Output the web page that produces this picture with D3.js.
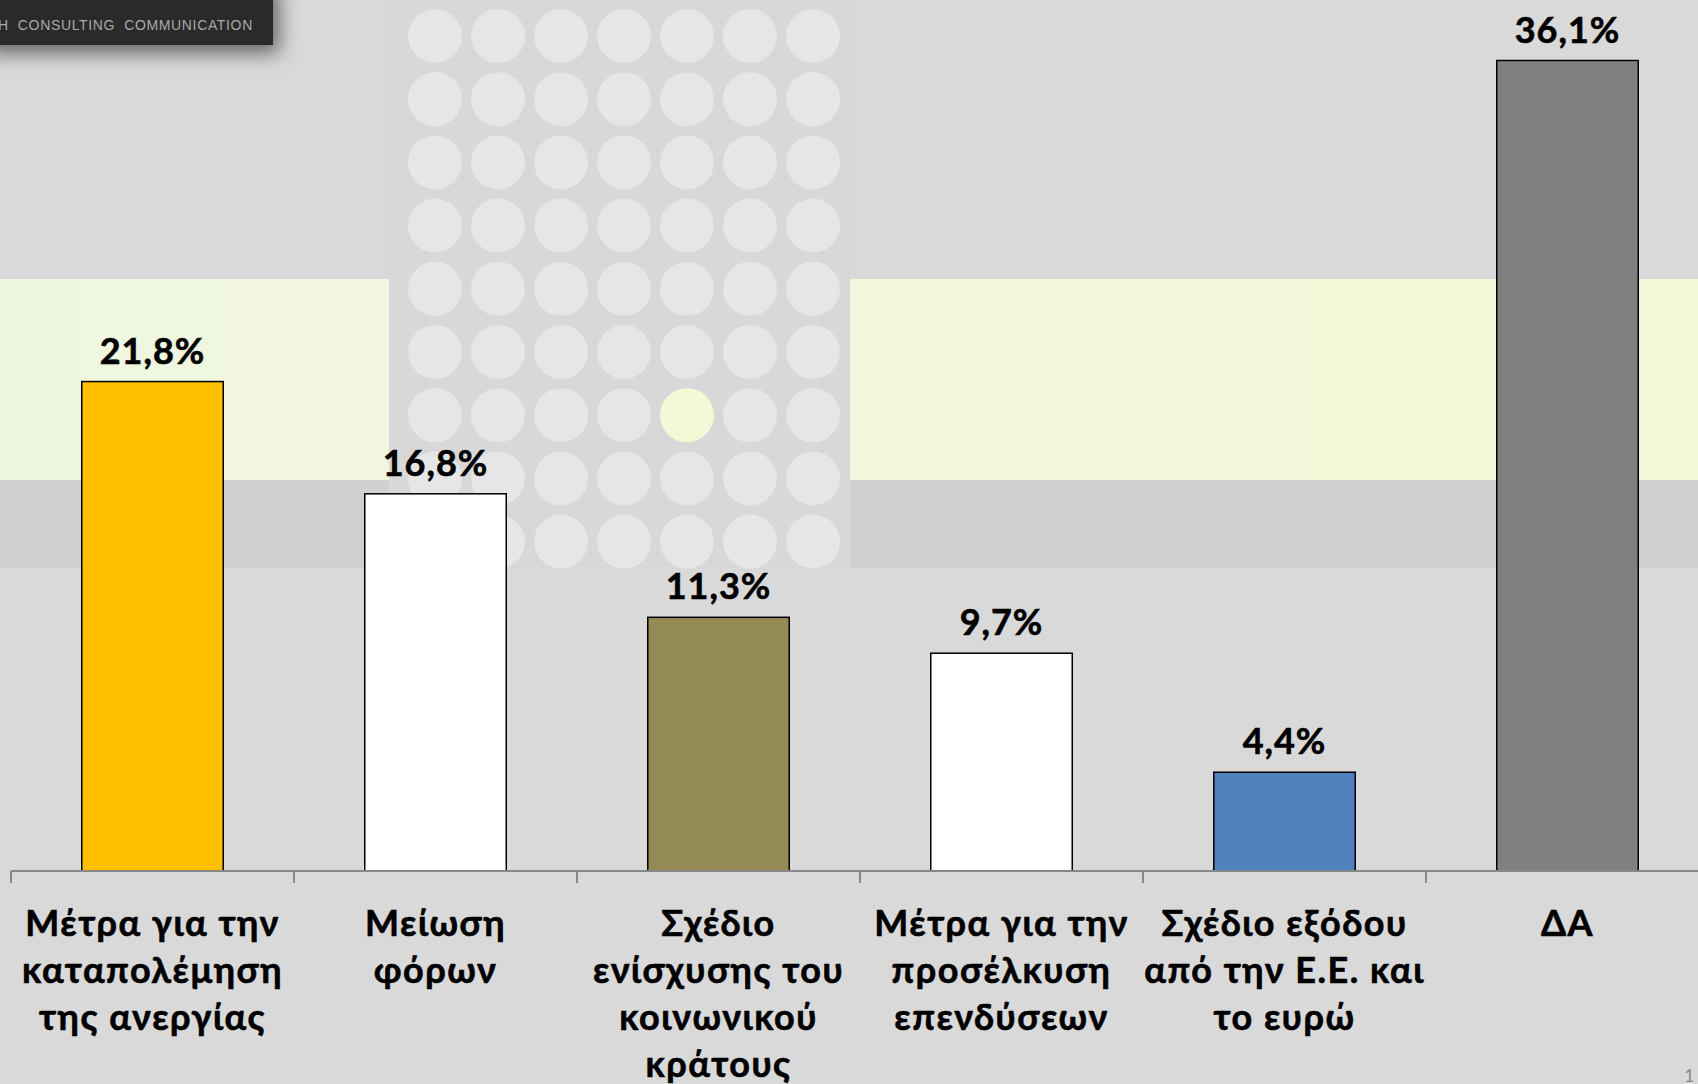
<!DOCTYPE html>
<html>
<head>
<meta charset="utf-8">
<script src="https://cdn.jsdelivr.net/npm/d3@7"></script>
<style>
html,body{margin:0;padding:0;background:#d9d9d9;overflow:hidden;}
svg{display:block;}
</style>
</head>
<body>
<svg id="chart" width="1698" height="1084"></svg>
<script>
const categories = [
  ["Μέτρα για την", "καταπολέμηση", "της ανεργίας"],
  ["Μείωση", "φόρων"],
  ["Σχέδιο", "ενίσχυσης του", "κοινωνικού", "κράτους"],
  ["Μέτρα για την", "προσέλκυση", "επενδύσεων"],
  ["Σχέδιο εξόδου", "από την Ε.Ε. και", "το ευρώ"],
  ["ΔΑ"]
];
const values = [21.8, 16.8, 11.3, 9.7, 4.4, 36.1];
const valueLabels = ["21,8%", "16,8%", "11,3%", "9,7%", "4,4%", "36,1%"];
const barColors = ["#FFC000", "#FFFFFF", "#948A54", "#FFFFFF", "#4F81BD", "#808080"];
const logoText = "H  CONSULTING  COMMUNICATION";

const W = 1698, H = 1084;
const svg = d3.select("#chart");
const FONT = "Lato, 'Open Sans', sans-serif";

// ---- background decoration ----
const defs = svg.append("defs");
const f = defs.append("filter").attr("id", "shadow").attr("x", "-20%").attr("y", "-50%").attr("width", "160%").attr("height", "250%");
f.append("feDropShadow").attr("dx", 6).attr("dy", 8).attr("stdDeviation", 10).attr("flood-color", "#000").attr("flood-opacity", 0.55);

const bandGrad = defs.append("linearGradient").attr("id", "bandGrad").attr("x1", 0).attr("x2", 1);
bandGrad.append("stop").attr("offset", 0).attr("stop-color", "#eff6e0");
bandGrad.append("stop").attr("offset", 1).attr("stop-color", "#f6f9d8");

svg.append("rect").attr("x", 0).attr("y", 0).attr("width", W).attr("height", H).attr("fill", "#d9d9d9");
svg.append("rect").attr("x", 0).attr("y", 480).attr("width", W).attr("height", 88).attr("fill", "#d1d1d1");
svg.append("rect").attr("x", 0).attr("y", 279).attr("width", W).attr("height", 201).attr("fill", "url(#bandGrad)");
// dot panel
svg.append("rect").attr("x", 389).attr("y", 0).attr("width", 461).attr("height", 568).attr("fill", "#d8d8d8");
const dotCols = d3.range(7), dotRows = d3.range(9);
const dotG = svg.append("g");
dotRows.forEach(r => dotCols.forEach(c => {
  dotG.append("circle")
    .attr("cx", 435 + c * 63)
    .attr("cy", 36 + r * 63.2)
    .attr("r", 27)
    .attr("fill", (c === 4 && r === 6) ? "#f5f8d6" : "#e6e6e6");
}));

// logo box
svg.append("rect").attr("x", -20).attr("y", -20).attr("width", 293).attr("height", 65)
  .attr("fill", "#2a2a2a").attr("filter", "url(#shadow)");
svg.append("text").attr("x", -2).attr("y", 30)
  .attr("font-family", "'Liberation Sans', sans-serif").attr("font-size", 14)
  .attr("fill", "#a9a9a9").attr("letter-spacing", 0.65)
  .style("white-space", "pre").text(logoText);

// ---- chart ----
const idx = d3.range(values.length);
const x = d3.scaleBand().domain(idx).range([11, 1709]).paddingInner(0.5).paddingOuter(0.25);
const y = d3.scaleLinear().domain([0, d3.max(values)]).range([871, 60.5]);

const g = svg.append("g");
g.selectAll("rect.bar").data(idx).join("rect").attr("class", "bar")
  .attr("x", i => x(i))
  .attr("y", i => y(values[i]))
  .attr("width", x.bandwidth())
  .attr("height", i => y(0) - y(values[i]))
  .attr("fill", i => barColors[i])
  .attr("stroke", "#000").attr("stroke-width", 1.5);

g.selectAll("text.val").data(idx).join("text").attr("class", "val")
  .attr("x", i => x(i) + x.bandwidth() / 2)
  .attr("y", i => y(values[i]) - 18)
  .attr("text-anchor", "middle")
  .attr("font-family", FONT).attr("font-weight", 700).attr("font-size", 36)
  .attr("letter-spacing", 1)
  .attr("fill", "#000").attr("stroke", "#000").attr("stroke-width", 0.6)
  .text(i => valueLabels[i]);

// axis
const step = x.step();
const edges = idx.map(i => x(i) - step * x.paddingOuter()).concat([x(idx.length - 1) + x.bandwidth() + step * x.paddingOuter()]);
svg.append("line").attr("x1", 11).attr("x2", W).attr("y1", 871).attr("y2", 871)
  .attr("stroke", "#878787").attr("stroke-width", 2);
svg.selectAll("line.tick").data(edges).join("line").attr("class", "tick")
  .attr("x1", d => d).attr("x2", d => d).attr("y1", 871).attr("y2", 883)
  .attr("stroke", "#878787").attr("stroke-width", 2);

// category labels
const cat = svg.selectAll("text.cat").data(idx).join("text").attr("class", "cat")
  .attr("text-anchor", "middle")
  .attr("font-family", FONT).attr("font-weight", 700).attr("font-size", 36)
  .attr("letter-spacing", 1.5)
  .attr("fill", "#000").attr("stroke", "#000").attr("stroke-width", 0.6);
cat.each(function(i) {
  const t = d3.select(this);
  categories[i].forEach((line, k) => {
    t.append("tspan").attr("x", x(i) + x.bandwidth() / 2).attr("y", 936 + k * 47).text(line);
  });
});

// page number
svg.append("text").attr("x", 1684).attr("y", 1082).attr("font-family", FONT)
  .attr("font-size", 18).attr("fill", "#8a8a8a").text("1");
</script>
</body>
</html>
